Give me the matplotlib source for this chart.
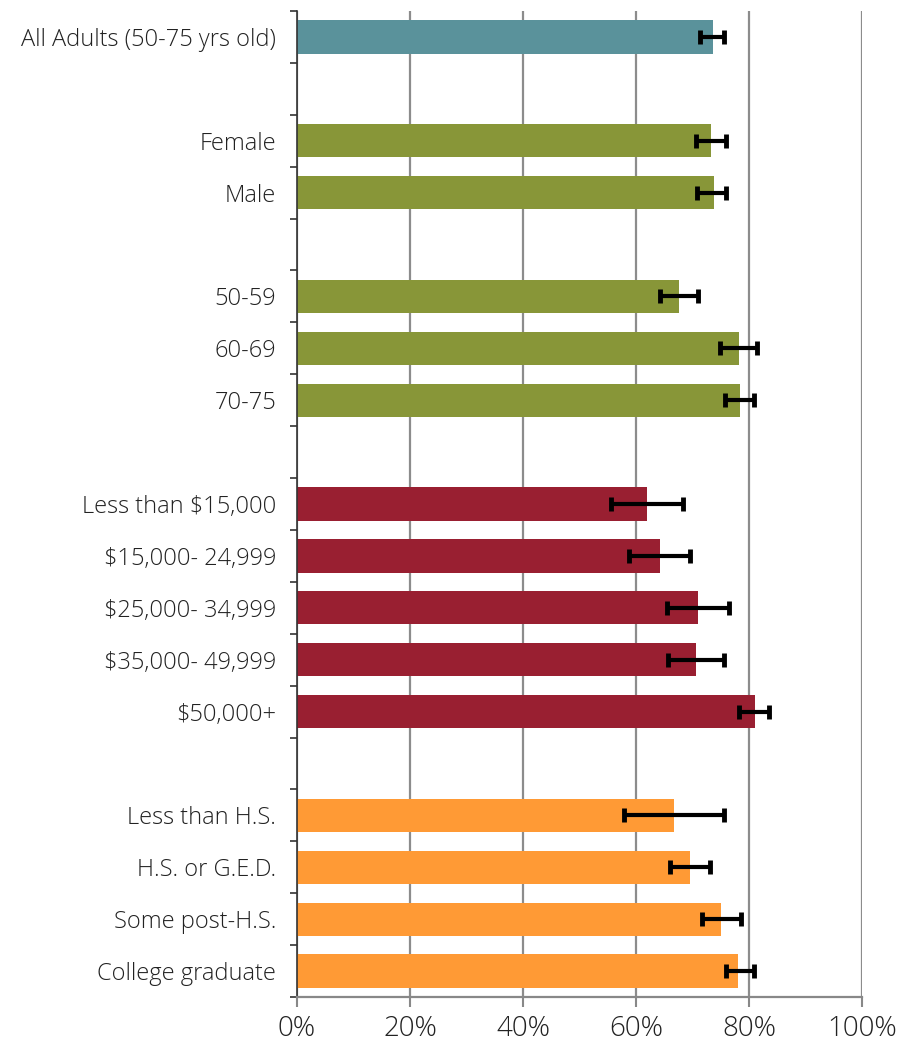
import matplotlib
matplotlib.use("Agg")
import matplotlib.pyplot as plt
import numpy as np

# Data (None = blank separator row), top to bottom
labels = ["All Adults (50-75 yrs old)", None, "Female", "Male", None,
          "50-59", "60-69", "70-75", None,
          "Less than $15,000", "$15,000- 24,999", "$25,000- 34,999", "$35,000- 49,999", "$50,000+", None,
          "Less than H.S.", "H.S. or G.E.D.", "Some post-H.S.", "College graduate"]
values = [73.6, None, 73.3, 73.8, None,
          67.6, 78.2, 78.4, None,
          61.9, 64.2, 71.0, 70.6, 81.1, None,
          66.7, 69.6, 75.0, 78.1]
ci_low = [71.4, None, 70.7, 70.8, None,
          64.2, 74.9, 75.7, None,
          55.6, 58.8, 65.4, 65.6, 78.3, None,
          57.9, 66.0, 71.6, 75.9]
ci_high = [75.6, None, 75.9, 75.9, None,
           70.9, 81.5, 80.9, None,
           68.4, 69.5, 76.5, 75.5, 83.6, None,
           75.5, 73.1, 78.6, 80.9]
groups = ["all", None, "sex", "sex", None,
          "age", "age", "age", None,
          "inc", "inc", "inc", "inc", "inc", None,
          "edu", "edu", "edu", "edu"]
xticks = [0, 20, 40, 60, 80, 100]
xticklabels = ["0%", "20%", "40%", "60%", "80%", "100%"]

colors = {"all": "#5A929B", "sex": "#889638", "age": "#889638",
          "inc": "#991F31", "edu": "#FF9A35"}

plt.rcParams['font.family'] = ['Open Sans', 'DejaVu Sans']

fig = plt.figure(figsize=(9.06, 10.48), dpi=100)
ax = fig.add_axes([297/906, 1-997/1048, (862-297)/906, (997-11)/1048])

n = len(labels)
pos = np.arange(n)
idx = [i for i in range(n) if values[i] is not None]
ys = pos[idx]
vals = np.array([values[i] for i in idx])
lo = np.array([ci_low[i] for i in idx])
hi = np.array([ci_high[i] for i in idx])
cols = [colors[groups[i]] for i in idx]

ax.set_axisbelow(True)
ax.barh(ys, vals, height=0.64, color=cols, zorder=2)
ax.errorbar(vals, ys, xerr=[vals - lo, hi - vals], fmt='none', ecolor='black',
            elinewidth=3, capsize=5, capthick=3.5, zorder=3)

ax.set_xlim(0, 100)
ax.set_ylim(n - 0.5, -0.5)
ax.set_xticks(xticks)
ax.set_xticklabels(xticklabels, fontsize=20, fontweight='light', color='#222222')
ax.set_yticks(pos)
ax.set_yticklabels([l if l else "" for l in labels], fontsize=17,
                   fontweight='light', color='#222222')
ax.set_yticks(np.arange(-0.5, n, 1.0), minor=True)
ax.tick_params(axis='y', which='major', length=0, pad=15)
ax.tick_params(axis='y', which='minor', length=5, width=1.2, color='#333333')
ax.tick_params(axis='x', length=7, width=1.5, color='#888888', pad=6)

ax.xaxis.grid(True, color='#8c8c8c', linewidth=1.6, zorder=0)
ax.yaxis.grid(False)
for s in ['top', 'right']:
    ax.spines[s].set_visible(False)
ax.spines['left'].set_color('#333333')
ax.spines['left'].set_linewidth(1.2)
ax.spines['bottom'].set_color('#888888')
ax.spines['bottom'].set_linewidth(1.6)

fig.savefig("out.png", dpi=100)
